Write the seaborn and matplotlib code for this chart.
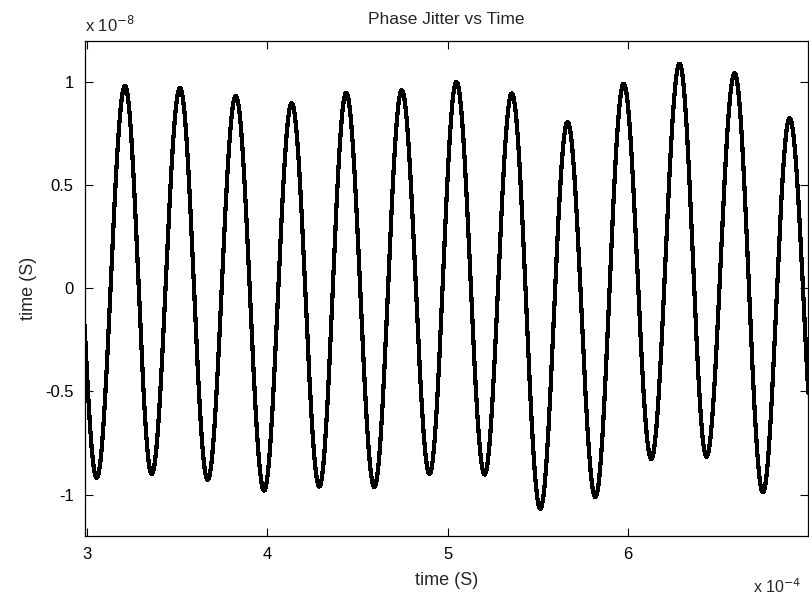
import numpy as np
import pandas as pd

import matplotlib
matplotlib.use("Agg")
import matplotlib.pyplot as plt
import seaborn as sns

# extrema, time in units of 1e-4 s, jitter in units of 1e-8 s
peak_time = [2.900, 3.211, 3.516, 3.825, 4.135, 4.437, 4.745, 5.048, 5.355, 5.664, 5.975, 6.285, 6.590, 6.895]
peak_val = [0.95, 0.981, 0.972, 0.932, 0.897, 0.948, 0.960, 1.001, 0.945, 0.806, 0.992, 1.089, 1.042, 0.824]
trough_time = [3.054, 3.359, 3.669, 3.982, 4.288, 4.593, 4.899, 5.204, 5.513, 5.818, 6.128, 6.434, 6.747, 7.050]
trough_val = [-0.919, -0.900, -0.929, -0.981, -0.961, -0.964, -0.900, -0.903, -1.069, -1.013, -0.827, -0.816, -0.989, -0.95]

x_ticks = [3, 4, 5, 6]
y_ticks = [-1, -0.5, 0, 0.5, 1]
y_tick_labels = ["-1", "-0.5", "0", "0.5", "1"]

# join extrema in time order, half-cosine between neighbours
ext_t = []
ext_v = []
for a, b, c, d in zip(peak_time, peak_val, trough_time, trough_val):
    ext_t += [a, c]
    ext_v += [b, d]

tt = []
vv = []
for i in range(len(ext_t) - 1):
    u = np.linspace(0, 1, 60, endpoint=False)
    tt.append(ext_t[i] + (ext_t[i + 1] - ext_t[i]) * u)
    vv.append(ext_v[i] + (ext_v[i + 1] - ext_v[i]) * (1 - np.cos(np.pi * u)) / 2)
df = pd.DataFrame({"t": np.concatenate(tt), "jitter": np.concatenate(vv)})

sns.set_theme(style="ticks")
plt.rcParams["font.family"] = ["Liberation Sans", "DejaVu Sans"]
plt.rcParams["axes.unicode_minus"] = False

fig = plt.figure(figsize=(8.09, 6.0), dpi=100)
ax = fig.add_axes([0.105, 0.107, 0.894, 0.825])

sns.lineplot(data=df, x="t", y="jitter", color="black", linewidth=2.3,
             antialiased=False, sort=False, ax=ax)

ax.set_xlim(2.989, 6.998)
ax.set_ylim(-1.2, 1.2)
ax.set_xticks(x_ticks)
ax.set_xticklabels([str(v) for v in x_ticks])
ax.set_yticks(y_ticks)
ax.set_yticklabels(y_tick_labels)
ax.tick_params(direction="in", length=6, width=0.8, top=True, right=True,
               labelsize=12, colors="black", pad=8)
for sp in ax.spines.values():
    sp.set_visible(True)
    sp.set_color("black")
    sp.set_linewidth(0.9)

ax.set_xlabel("time (S)", fontsize=13, labelpad=7)
ax.set_ylabel("time (S)", fontsize=13, labelpad=6)
ax.set_title("Phase Jitter vs Time", fontsize=12.5, pad=12)

ax.text(0.0, 1.012, r"x 10$^{-8}$", transform=ax.transAxes, fontsize=12,
        ha="left", va="bottom")
ax.text(0.99, -0.103, r"x 10$^{-4}$", transform=ax.transAxes, fontsize=11.5,
        ha="right", va="center")

fig.savefig("out.png", dpi=100, facecolor="white")
